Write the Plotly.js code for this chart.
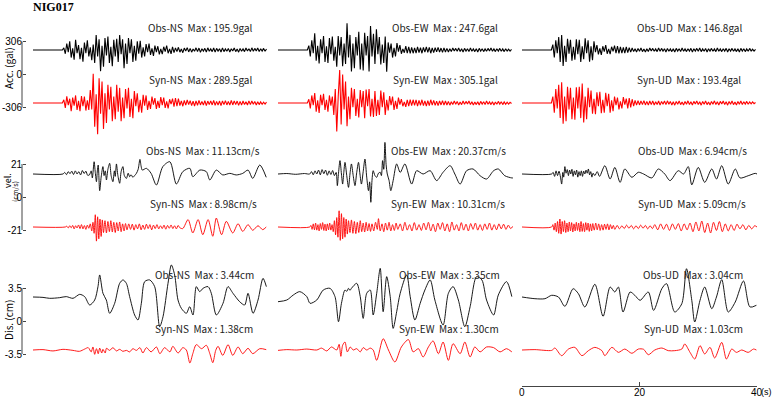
<!DOCTYPE html>
<html><head><meta charset="utf-8">
<script src="https://cdn.plot.ly/plotly-3.0.1.min.js"></script>
<style>html,body{margin:0;padding:0;background:#fff}#chart{width:775px;height:397px}</style>
</head><body><div id="chart"></div>
<script>
// ---------------- DATA ----------------
const stationName = 'NIG017';
const components = ['NS', 'EW', 'UD'];
const timeTicks = [0, 20, 40];
const timeUnit = '(s)';
const ACC_DT = 0.25; // s, sample interval of the acceleration records

const accTicks = [-306, 0, 306];
const velTicks = [-21, 0, 21];
const disTicks = [-3.5, 0, 3.5];

const accMaxObs = [195.9, 247.6, 146.8];
const accMaxSyn = [289.5, 305.1, 193.4];
const velMaxObs = [11.13, 20.37, 6.94];
const velMaxSyn = [8.98, 10.31, 5.09];
const disMaxObs = [3.44, 3.35, 3.04];
const disMaxSyn = [1.38, 1.30, 1.03];

// acceleration (gal), uniform samples
const accObsNS = [0,0,0,0,0,0,0,0, 0,0,0,0,0,0,0,0, 0,0,0,0,0,20,-35,60,
 -20,80,-70,15,-90,95,-30,45, -85,20,-108,70,-30,90,-60,25,
 -95,50,-120,139,-60,100,-196,40, -154,110,-50,125,-120,30,-150,95,
 -60,105,-110,139,-40,100,-170,60, -130,110,-30,100,-110,40,-100,80,
 -35,85,-70,25,-60,55,-20,60, -45,15,-55,40,-20,35,-40,10,
 -38,30,-15,40,-30,10,-35,30, -25,20,-15,25,-20,10,-25,18,
 -10,22,-18,15,-20,10,-12,20, -15,18,-22,12,-10,15,-18,20,
 -12,10,-15,18,-20,15,-10,12, -18,20,-15,10,-12,15,-18,12,
 -10,18,-15,10,-20,15,-12,10, -15,18,-10,12,-15,20,-12,15,
 -10,18,-15,12,-10,15,-12,10];
const accSynNS = [0,0,0,0,0,0,0,0, 0,0,0,0,0,0,0,0, 0,0,0,0,0,30,-45,62,
 -20,40,-77,50,-25,70,-65,20, -75,65,-30,60,-70,25,-65,120,
 -60,272,-220,80,-289,230,-100,200, -240,90,-185,170,-60,150,-170,60,
 -150,170,-80,140,-170,50,-140,130, -50,140,-130,40,-140,110,-30,90,
 -85,30,-90,75,-25,70,-65,20, -55,60,-15,45,-55,20,-45,55,
 -20,50,-45,15,-50,35,-10,40, -35,45,-30,40,-25,20,-30,25,
 -20,28,-15,22,-25,18,-28,20, -22,25,-18,15,-20,22,-25,18,
 -15,20,-18,25,-22,15,-20,18, -25,20,-15,22,-18,15,-20,25,
 -18,20,-15,18,-22,15,-20,18, -15,12,-18,20,-15,18,-12,15,
 -18,12,-15,10,-12,8,-10,8];
const accObsEW = [0,0,0,0,0,0,0,0, 0,0,0,0,0,0,0,0, 0,0,0,0,0,40,-60,90,
 -30,155,-100,40,-124,100,-30,130, -110,35,-120,110,-40,125,-100,30,
 -155,130,-50,120,-150,60,-130,247, -70,140,-200,60,-170,120,-50,170,
 -180,60,-190,160,-50,130,-200,222, -60,150,-130,192,-40,120,-135,50,
 -120,124,-202,70,-25,60,-70,20, -60,65,-15,45,-35,10,-25,35,
 -30,28,-32,25,-30,20,-28,30, -25,22,-30,25,-20,28,-22,25,
 -30,20,-25,22,-18,25,-20,18, -22,20,-18,15,-18,12,-15,18,
 -10,15,-12,18,-15,12,-18,15, -10,12,-15,18,-12,10,-15,12,
 -18,15,-10,12,-15,10,-12,15, -10,18,-12,10,-15,12,-10,15,
 -12,10,-15,12,-10,8,-10,5];
const accSynEW = [0,0,0,0,0,0,0,0, 0,0,0,0,0,0,0,0, 0,0,0,0,0,35,-50,70,
 -20,93,-80,25,-93,75,-20,85, -65,30,-80,70,-25,60,-110,130,
 -263,60,305,-200,263,-60,200,-216, 60,-150,140,-40,130,-120,40,-135,
 120,-40,110,-140,125,-30,130,-125, 40,-130,110,-120,30,-110,115,-40,
 100,-110,30,-70,65,-20,60,-65, 20,-55,50,-15,35,-30,10,-35,
 30,-28,32,-25,30,-22,28,-30, 25,-22,30,-25,20,-28,22,-25,
 30,-20,25,-22,18,-25,20,-18, 22,-20,18,-18,15,-20,12,-15,
 18,-12,15,-18,10,-15,18,-12, 15,-10,18,-15,12,-18,10,-15,
 12,-18,15,-10,12,-15,18,-12, 10,-15,12,-18,10,-12,15,-10,
 12,-15,10,-12,8,-10,6,-5];
const accObsUD = [0,0,0,0,0,0,0,0, 0,0,0,0,0,0,0,0, 0,0,0,0,0,50,-70,90,
 -30,120,-110,139,-147,40,-110,105, -35,95,-100,30,-90,100,-40,95,
 -110,35,-85,108,-30,90,-108,35, -95,80,-20,45,-40,15,-45,35,
 -15,45,-35,10,-38,30,-12,40, -30,35,-32,28,-30,25,-28,30,
 -25,22,-20,18,-15,12,-18,15, -12,18,-15,10,-18,12,-15,18,
 -10,15,-12,10,-15,18,-12,15, -10,12,-18,15,-12,10,-15,12,
 -18,15,-10,12,-15,18,-12,10, -15,12,-10,15,-18,12,-10,15,
 -12,18,-15,10,-12,15,-18,12, -10,15,-12,10,-15,18,-12,10,
 -15,12,-10,15,-18,12,-10,15, -12,10,-15,12,-18,15,-10,12,
 -15,10,-12,15,-10,8,-10,5];
const accSynUD = [0,0,0,0,0,0,0,0, 0,0,0,0,0,0,0,0, 0,0,0,0,0,60,-90,130,
 -50,170,-140,193,-193,60,-170,150, -60,140,-150,50,-155,145,-50,150,
 -140,180,-180,60,-150,140,-40,115, -100,40,-105,100,-30,105,-95,30,
 -90,95,-30,85,-90,25,-75,60, -20,50,-60,15,-50,55,-15,40,
 -50,45,-40,35,-30,25,-20,22, -18,20,-15,22,-18,15,-20,18,
 -15,20,-18,12,-15,18,-20,15, -12,18,-15,20,-12,15,-18,12,
 -20,15,-12,18,-15,10,-18,15, -12,20,-15,12,-18,15,-10,18,
 -15,12,-20,15,-12,18,-15,10, -18,15,-12,20,-15,12,-18,15,
 -10,18,-15,12,-20,15,-12,18, -15,10,-18,15,-12,18,-15,12,
 -10,15,-12,10,-8,10,-6,5];

// velocity (cm/s), [time s, value]
const velObsNS = [[0,0],[5.1,0],[5.4,1.0],[5.7,-0.4],[6.0,1.5],[6.3,0.2],[6.6,1.8],[6.9,-0.3],[7.2,2.0],[7.5,0],
 [7.8,1.5],[8.1,-0.6],[8.4,2.2],[8.7,0.3],[9.0,1.8],[9.3,-0.8],[9.6,-0.6],[9.9,2.0],[10.1,-2.5],[10.4,7.8],
 [10.6,1.0],[10.8,-4.9],[10.95,2.0],[11.1,5.7],[11.35,-10.6],[11.6,-2.0],[11.9,4.7],[12.1,-1.0],[12.3,2.0],[12.5,-3.8],
 [12.75,3.0],[13.05,6.8],[13.3,-1.0],[13.6,-4.9],[13.85,2.0],[14.0,-1.5],[14.2,6.4],[14.45,-1.0],[14.75,-5.9],[15.0,1.5],
 [15.3,4.7],[15.55,-1.0],[15.9,-2.8],[16.2,0.5],[16.45,-1.7],[16.7,-0.5],[17.0,-2.1],[17.3,-1.0],[17.6,0.4],[17.9,3.0],
 [18.2,9.3],[18.4,5.0],[18.6,2.5],[19.3,3.6],[20.1,0.4],[21.0,-7.0],[22.1,4.7],[23.3,7.8],[24.4,-6.4],[25.5,1.5],
 [26.7,3.6],[27.2,-1.7],[28.4,2.5],[29.5,1.5],[30.1,-3.8],[31.2,2.5],[32.3,-0.6],[33.5,0.4],[34.6,-0.6],[35.7,0.4],
 [36.6,2.5],[37.4,-2.8],[38.6,5.7],[39.7,-2.1]];
const velSynNS = [[0,0],[5.5,0],[5.75,0.5],[6.0,-0.6],[6.25,0.8],[6.5,-0.5],[6.75,1.0],[7.0,-1.2],[7.25,0.8],[7.5,-0.6],
 [7.75,1.3],[8.0,-1.0],[8.25,1.5],[8.5,-1.2],[8.75,0.9],[9.0,-1.5],[9.25,1.2],[9.5,-0.8],[9.75,2.0],[10.0,-2.5],
 [10.2,3.0],[10.4,-4.0],[10.6,7.8],[10.8,-8.98],[11.0,6.5],[11.2,-7.5],[11.4,5.0],[11.6,-6.0],[11.8,4.5],[12.0,-3.5],
 [12.25,4.0],[12.5,-3.8],[12.75,3.5],[13.0,-3.0],[13.25,4.0],[13.5,-3.2],[13.75,3.0],[14.0,-3.5],[14.25,2.8],[14.5,-2.5],
 [14.75,3.2],[15.0,-3.0],[15.25,2.0],[15.5,-2.5],[15.75,2.2],[16.0,-1.8],[16.3,2.0],[16.6,-1.5],[16.9,1.8],[17.2,-2.0],
 [17.5,1.5],[17.8,-1.2],[18.1,2.0],[18.4,-1.8],[18.7,1.2],[19.0,-1.5],[19.3,1.8],[19.6,-1.0],[19.9,1.5],[20.2,-1.8],
 [20.5,1.2],[20.8,-1.0],[21.1,1.5],[21.4,-1.2],[21.7,0.8],[22.0,-1.0],[22.3,1.2],[22.6,-1.4],[22.9,1.0],[23.2,-0.8],
 [23.5,1.3],[23.8,-1.0],[24.1,0.8],[24.4,-1.2],[24.7,1.0],[25.0,-0.5],[25.5,-1.0],[26.4,4.7],[27.2,-3.8],[28.1,4.7],
 [28.9,-4.9],[29.8,4.7],[30.6,-5.9],[31.2,5.7],[32.1,-4.9],[32.9,3.6],[34.0,-3.8],[34.9,2.1],[35.7,-2.8],[36.6,1.5],
 [37.4,-2.1],[38.3,0.8],[39.1,-1.7],[39.7,0]];
const velObsEW = [[0,0],[1.5,0.3],[3.0,-0.2],[4.5,0.3],[5.4,0],[5.7,1.5],[6.0,-0.5],[6.3,2.0],[6.6,0],[6.9,2.5],
 [7.2,-0.5],[7.5,2.8],[7.8,0.2],[8.1,2.5],[8.4,-0.8],[8.7,2.0],[9.0,-0.3],[9.3,2.2],[9.6,-1.0],[9.9,1.0],
 [10.1,-7.4],[10.3,0.5],[10.55,8.5],[10.8,0],[11.0,-6.4],[11.2,1.0],[11.4,7.4],[11.7,-1.0],[12.0,-8.5],[12.25,0],
 [12.5,6.4],[12.8,-1.0],[13.1,-7.4],[13.4,1.0],[13.7,7.4],[13.95,0],[14.2,-6.4],[14.5,1.5],[14.8,9.5],[15.1,-2.0],
 [15.4,-10.6],[15.6,-5.0],[15.8,-18],[16.0,-4.0],[16.2,2.1],[16.5,-1.0],[16.8,-2.1],[17.1,0.5],[17.4,1.1],[17.6,-1.0],
 [17.8,8.5],[18.0,3.0],[18.2,20.1],[18.4,6.0],[18.6,0],[18.9,-4.0],[19.2,-10.6],[19.6,-4.2],[20.2,6.4],[20.8,1.0],
 [21.6,6.4],[22.75,-6.4],[23.6,2.1],[24.7,0],[25.9,2.1],[27.0,-4.2],[28.1,1.1],[29.3,5.3],[30.1,0],[31.0,-6.4],
 [32.1,2.1],[33.2,3.2],[34.4,-1.1],[35.5,-3.2],[36.7,2.1],[37.5,3.2],[38.6,-1.1],[39.8,-2.5],[40,-2.5]];
const velSynEW = [[0,0],[5.4,0],[5.6,1.0],[5.8,-1.5],[6.0,2.0],[6.2,-1.8],[6.4,2.5],[6.6,-2.0],[6.8,1.5],[7.0,-2.5],
 [7.2,2.2],[7.4,-1.5],[7.6,2.8],[7.8,-2.2],[8.0,1.8],[8.2,-2.5],[8.4,2.0],[8.6,-1.8],[8.8,2.5],[9.0,-2.0],
 [9.2,1.5],[9.4,-3.0],[9.6,4.0],[9.8,-5.0],[10.0,6.0],[10.2,-6.5],[10.4,10.3],[10.6,-8.5],[10.8,8.5],[11.0,-7.5],
 [11.2,6.0],[11.4,-6.5],[11.6,5.0],[11.8,-4.5],[12.0,4.0],[12.25,-3.5],[12.5,4.5],[12.75,-4.0],[13.0,3.5],[13.25,-4.2],
 [13.5,3.0],[13.75,-3.5],[14.0,4.0],[14.25,-3.0],[14.5,2.5],[14.75,-3.2],[15.0,3.0],[15.25,-2.5],[15.5,2.2],[15.75,-2.8],
 [16.0,2.0],[16.3,-2.5],[16.6,3.0],[16.9,-1.5],[17.1,5.3],[17.4,-2.5],[17.7,2.0],[18.0,-3.0],[18.3,2.5],[18.6,-2.0],
 [18.9,3.0],[19.2,-2.5],[19.5,1.5],[19.8,-2.2],[20.1,2.5],[20.4,-1.5],[20.8,2.0],[21.2,-2.5],[21.6,3.0],[22.0,-2.0],
 [22.4,1.5],[22.8,-2.5],[23.2,2.8],[23.6,-2.0],[24.0,1.5],[24.4,-2.2],[24.8,2.5],[25.2,-1.8],[25.6,3.0],[26.0,-2.5],
 [26.4,1.8],[26.8,-3.0],[27.2,2.5],[27.6,-1.5],[28.0,2.8],[28.4,-2.5],[28.8,2.0],[29.2,-3.0],[29.6,3.2],[30.0,-2.0],
 [30.4,1.5],[30.8,-2.5],[31.2,2.8],[31.6,-2.0],[32.0,1.8],[32.4,-2.5],[32.8,2.2],[33.2,-1.5],[33.6,2.5],[34.0,-2.0],
 [34.4,1.5],[34.8,-2.2],[35.2,2.0],[35.6,-1.5],[36.0,2.5],[36.4,-2.0],[36.8,1.5],[37.2,-1.8],[37.6,2.0],[38.0,-1.2],
 [38.4,1.8],[38.8,-1.5],[39.2,1.2],[39.6,-1.0],[40,0.5]];
const velObsUD = [[0,0],[5.05,0],[5.3,1.0],[5.55,-1.5],[5.8,2.0],[6.05,-1.0],[6.3,1.8],[6.55,-2.0],[6.75,-6.4],[6.95,1.0],
 [7.1,-2.0],[7.3,4.7],[7.5,0.5],[7.7,2.8],[7.9,-1.0],[8.1,2.5],[8.3,0],[8.5,3.0],[8.7,-1.5],[8.9,2.0],
 [9.1,-0.5],[9.3,2.5],[9.5,-2.0],[9.7,1.5],[9.9,-1.0],[10.1,2.0],[10.3,-1.5],[10.5,1.8],[10.7,0],[10.9,2.5],
 [11.1,0.5],[11.3,3.2],[11.5,-0.5],[11.7,1.5],[11.9,-2.0],[12.1,0.5],[12.4,-1.0],[12.8,1.5],[13.2,-1.5],[14.1,5.3],
 [15.0,-3.2],[15.8,4.2],[16.7,-5.3],[17.5,3.2],[18.7,-2.1],[19.8,1.1],[20.7,0],[22.1,-2.5],[23.2,3.2],[24.3,0],
 [25.2,-4.2],[26.6,2.1],[27.5,0],[28.3,4.7],[28.9,-6.9],[30.0,4.2],[31.1,-5.3],[32.3,3.2],[33.1,-3.2],[34.0,5.3],
 [35.1,-6.4],[36.3,3.2],[37.1,-2.5],[38.5,-1.1],[39.7,0.4],[40,0]];
const velSynUD = [[0,0],[5.05,0],[5.25,1.5],[5.45,-2.0],[5.65,2.5],[5.85,-3.0],[6.05,3.5],[6.25,-4.0],[6.45,5.09],[6.65,-4.5],
 [6.85,3.5],[7.05,-3.0],[7.25,4.0],[7.45,-3.5],[7.65,2.5],[7.85,-3.0],[8.05,3.2],[8.25,-2.5],[8.45,2.8],[8.65,-3.2],
 [8.85,2.0],[9.05,-2.5],[9.25,3.0],[9.45,-2.2],[9.65,2.5],[9.85,-3.0],[10.05,3.5],[10.25,-2.8],[10.45,2.2],[10.65,-3.0],
 [10.85,2.8],[11.05,-2.0],[11.25,2.5],[11.45,-2.8],[11.65,2.0],[11.85,-2.5],[12.05,2.2],[12.3,-2.0],[12.55,2.5],[12.8,-1.8],
 [13.05,2.0],[13.3,-2.2],[13.55,1.5],[13.8,-2.0],[14.05,1.8],[14.3,-1.5],[14.55,2.0],[14.8,-1.8],[15.05,1.5],[15.3,-1.2],
 [15.55,1.0],[15.8,-1.5],[16.2,1.0],[16.6,-1.2],[17.0,0.8],[17.4,-1.0],[17.8,1.2],[18.2,-0.8],[18.6,1.0],[19.0,-1.2],
 [19.4,0.8],[19.8,-1.0],[20.2,1.2],[20.6,-0.8],[21.0,1.0],[21.4,-1.2],[21.8,0.8],[22.2,-1.0],[22.6,1.5],[23.1,-1.8],
 [23.6,2.0],[24.1,-1.5],[24.6,1.8],[25.1,-2.2],[25.6,2.0],[26.1,-1.5],[26.6,2.2],[27.1,-2.5],[27.6,2.0],[28.1,-1.8],
 [28.6,2.5],[29.1,-3.0],[29.6,3.2],[30.1,-2.5],[30.6,3.8],[31.1,-3.5],[31.6,2.5],[32.1,-3.8],[32.6,3.0],[33.1,-2.2],
 [33.6,3.5],[34.1,-3.0],[34.6,2.0],[35.1,-2.5],[35.6,1.5],[36.1,-2.2],[36.6,1.8],[37.1,-1.2],[37.6,1.5],[38.1,-1.8],
 [38.6,1.0],[39.1,-1.2],[39.6,0.8],[40,0]];

// displacement (cm), [time s, value]
const disObsNS = [[0,0],[1.7,-0.04],[2.84,-0.14],[4.54,-0.07],[5.67,0.04],[6.81,-0.14],[7.94,0.28],[8.79,0.04],[9.65,-0.85],[10.5,-0.32],
 [11.06,1.1],[11.35,2.34],[11.91,0.39],[12.48,-0.32],[13.05,-1.73],[13.9,-0.67],[14.75,1.45],[15.32,1.81],[15.89,1.45],[16.45,0.04],
 [17.3,-1.91],[17.87,-2.44],[18.44,-0.67],[19.01,1.63],[19.86,1.81],[20.71,1.1],[21.56,-3.15],[22.13,-2.09],[22.98,1.45],[23.55,3.4],
 [24.11,2.34],[24.68,-0.32],[25.25,-1.2],[26.1,-1.73],[26.67,-1.03],[27.23,-1.91],[27.8,1.1],[28.37,0.57],[28.94,0.92],[29.79,1.1],
 [30.35,0.39],[31.21,-1.91],[32.34,-0.67],[33.19,1.1],[34.04,0.39],[35.18,-0.5],[36.03,-0.85],[36.6,0.39],[37.45,-1.73],[38.3,-0.32],
 [39.15,1.98],[39.72,1.1]];
const disSynNS = [[0,0],[1.7,0.04],[3.4,-0.1],[5.1,0.07],[6.8,-0.04],[7.9,-0.14],[8.8,0.1],[9.4,0.25],[9.9,-0.2],[10.2,0.32],
 [10.5,-0.46],[10.8,0.14],[11.1,-0.39],[11.35,0.2],[11.7,-0.32],[11.9,0.07],[12.3,-0.32],[12.5,0.18],[13.05,-0.04],[13.6,0.25],
 [14.2,-0.1],[14.75,0.07],[15.3,-0.14],[15.9,-0.04],[16.45,-0.2],[17.0,0.14],[17.6,-0.04],[18.2,0.25],[18.7,-0.32],[19.3,0.25],
 [20.1,-0.2],[21.0,0.32],[21.6,-0.39],[22.4,0.25],[23.3,-0.2],[23.8,0.39],[24.7,-0.32],[25.5,0.25],[26.1,0],[26.7,-1.38],
 [27.2,-0.39],[27.8,0.57],[28.7,0.14],[29.5,0.5],[30.1,-0.39],[30.6,-1.35],[31.1,-0.04],[31.5,0.39],[32.3,-0.57],[33.2,0.57],
 [34.0,-0.57],[34.9,0.32],[35.7,-0.39],[36.6,0.18],[37.4,-0.39],[38.6,0.14],[39.7,0.04]];
const disObsEW = [[0,-0.5],[1.5,-0.32],[2.6,0.21],[3.7,0.57],[4.9,0.04],[5.45,-0.67],[6.6,-0.32],[7.7,0.74],[8.85,0.92],[9.7,0.04],
 [10.3,-2.62],[10.8,-0.67],[11.4,0.74],[11.7,0.6],[12.0,0.92],[12.25,0.7],[12.5,0.92],[13.4,1.45],[14.0,0.04],[14.5,-2.27],
 [15.1,0.39],[15.7,0.74],[16.2,-1.91],[16.8,0.39],[17.4,3.04],[17.9,-1.56],[18.5,2.16],[19.1,0.04],[19.6,-3.33],[20.2,-1.56],
 [20.8,0.39],[21.9,2.34],[22.5,0.04],[23.3,-2.44],[24.2,-0.67],[25.0,0.74],[25.9,1.81],[26.7,-0.32],[28.1,-2.97],[29.0,0.39],
 [29.8,1.1],[30.7,-0.32],[31.8,-3.15],[32.7,-1.03],[33.8,2.16],[34.7,1.81],[35.5,-0.32],[36.7,-1.91],[37.5,0.21],[38.9,1.63],
 [39.8,0.04]];
const disSynEW = [[0,-0.04],[1.5,0.04],[3.2,0],[4.9,0.1],[6.6,0],[7.4,0.2],[8.3,-0.1],[9.1,0.32],[10.0,0],[10.4,0.6],
 [10.7,-0.67],[11.0,0.5],[11.4,0.85],[11.8,-0.2],[12.3,0.32],[12.8,0],[13.4,0.14],[14.0,-0.2],[14.5,0.25],[15.1,0],
 [15.7,0.2],[16.2,0],[16.8,-1.1],[17.9,1.2],[18.8,0],[19.9,-1.27],[21.0,0.32],[22.2,1.1],[23.0,-0.2],[23.9,0.14],
 [24.7,-0.74],[25.6,0.32],[26.4,0.96],[27.3,-0.39],[28.1,0.85],[29.0,-1.1],[29.8,0.67],[31.0,-0.39],[31.8,0.85],[32.7,-0.74],
 [33.5,0.32],[34.4,-0.2],[35.5,0.32],[36.7,0.25],[37.8,-0.2],[38.9,0.14],[39.8,-0.2]];
const disObsUD = [[0,0],[2.2,-0.18],[3.9,-0.18],[5.05,0.18],[6.2,0],[7.3,-0.99],[8.7,0.88],[9.6,0.35],[10.7,-1.06],[12.4,1.35],
 [13.8,-2.05],[15.0,1.06],[15.8,0.53],[16.4,1.06],[17.2,-1.59],[18.4,0.53],[19.2,0.18],[20.1,-0.35],[21.5,0.53],[22.4,-1.42],
 [23.8,0.88],[24.6,1.42],[26.0,-1.59],[27.2,-0.71],[28.0,3.0],[28.9,-0.35],[29.4,-2.65],[30.3,-0.35],[31.1,1.06],[32.3,-1.24],
 [33.1,0],[34.0,1.84],[35.1,-1.59],[36.3,-0.53],[37.7,1.7],[38.8,-1.06],[39.9,-0.88]];
const disSynUD = [[0,0],[2.2,0.04],[5.05,-0.04],[5.6,0.21],[6.75,-0.6],[7.9,0.1],[9.0,0.28],[10.2,-0.6],[11.3,-0.07],[12.4,0.28],
 [13.6,-0.07],[14.1,-0.6],[15.3,0.28],[16.4,-0.25],[17.5,0.1],[18.7,-0.35],[19.8,0.1],[20.7,0.07],[21.5,-0.5],[22.6,0],
 [23.8,0.21],[24.9,-0.07],[26.0,-0.07],[27.2,0.1],[27.7,0.64],[28.6,-0.25],[29.4,-0.96],[30.3,0.46],[31.1,-0.42],[32.0,0.28],
 [32.8,-0.85],[34.0,0.81],[34.8,-0.96],[35.7,0.1],[36.5,-0.25],[37.4,0],[38.5,-0.25],[39.4,0.1],[39.9,0]];

// ---------------- LAYOUT HELPERS ----------------
const W = 775, H = 397;
const fx = p => p / W;
const fy = p => 1 - p / H;
const colPx = [[33, 268], [278, 513], [522, 757]];
const LABEL_FONT = 'Noto Sans CJK JP, Arial, sans-serif';
const TICK_FONT = 'Liberation Sans, Arial, sans-serif';
const TEXT_COLOR = '#222';

const rowsCfg = [
  { p0: 74.5, s: 33 / 306, dom: [14, 142], obsY: 50, synY: 103, ticks: accTicks,
    obs: [accObsNS, accObsEW, accObsUD], syn: [accSynNS, accSynEW, accSynUD], uniform: true,
    maxObs: accMaxObs, maxSyn: accMaxSyn, dec: 1, unit: 'gal', lblObsY: 27, lblSynY: 80, lblDx: 167, lw: 1.1 },
  { p0: 197, s: 33 / 21, dom: [138, 258], obsY: 174, synY: 227, ticks: velTicks,
    obs: [velObsNS, velObsEW, velObsUD], syn: [velSynNS, velSynEW, velSynUD], uniform: false,
    maxObs: velMaxObs, maxSyn: velMaxSyn, dec: 2, unit: 'cm/s', lblObsY: 151, lblSynY: 203, lblDx: 170, lw: 0.9 },
  { p0: 321, s: 33 / 3.5, dom: [256, 372], obsY: 297, synY: 350, ticks: disTicks,
    obs: [disObsNS, disObsEW, disObsUD], syn: [disSynNS, disSynEW, disSynUD], uniform: false,
    maxObs: disMaxObs, maxSyn: disMaxSyn, dec: 2, unit: 'cm', lblObsY: 274, lblSynY: 328, lblDx: 171, lw: 0.9 }
];

const traces = [];
const layout = {
  width: W, height: H, margin: { l: 0, r: 0, t: 0, b: 0 },
  paper_bgcolor: '#fff', plot_bgcolor: 'rgba(0,0,0,0)', showlegend: false,
  title: { text: '<b>' + stationName + '</b>', x: fx(33), xanchor: 'left', xref: 'paper',
           y: fy(6.5), yanchor: 'middle', yref: 'paper',
           font: { family: 'Liberation Serif, Times New Roman, serif', size: 12, color: '#000' } },
  annotations: [], shapes: []
};

rowsCfg.forEach((rc, r) => {
  const yr = [(rc.p0 - rc.dom[1]) / rc.s, (rc.p0 - rc.dom[0]) / rc.s];
  const offObs = (rc.p0 - rc.obsY) / rc.s;
  const offSyn = (rc.p0 - rc.synY) / rc.s;
  components.forEach((comp, c) => {
    const idx = r * 3 + c + 1;
    const sfx = idx === 1 ? '' : String(idx);
    const xa = 'x' + sfx, ya = 'y' + sfx;
    layout['xaxis' + sfx] = { domain: [fx(colPx[c][0]), fx(colPx[c][1])], range: [0, 40], anchor: ya,
      visible: false, showgrid: false, zeroline: false, fixedrange: true };
    layout['yaxis' + sfx] = { domain: [fy(rc.dom[1]), fy(rc.dom[0])], range: yr, anchor: xa,
      visible: false, showgrid: false, zeroline: false, fixedrange: true };
    if (c === 0) {
      Object.assign(layout['yaxis' + sfx], {
        visible: true, anchor: 'free', position: fx(22), side: 'left', showline: false,
        ticks: 'inside', ticklen: 3, tickwidth: 1, tickcolor: '#444',
        tickvals: rc.ticks, ticktext: rc.ticks.map(String),
        tickfont: { family: TICK_FONT, size: 10, color: '#000' }
      });
      layout.shapes.push({ type: 'line', xref: 'paper', yref: ya, x0: fx(22), x1: fx(22),
        y0: rc.ticks[0], y1: rc.ticks[2], line: { color: '#444', width: 1 } });
    }
    const mk = (data, off, color) => {
      let xs, ys;
      if (rc.uniform) { xs = data.map((_, i) => i * ACC_DT); ys = data.map(v => v + off); }
      else { xs = data.map(p => p[0]); ys = data.map(p => p[1] + off); }
      return { type: 'scatter', mode: 'lines', x: xs, y: ys, xaxis: xa, yaxis: ya,
        line: { color: color, width: rc.lw, shape: rc.uniform ? 'linear' : 'spline', smoothing: 0.8 },
        hoverinfo: 'skip' };
    };
    traces.push(mk(rc.obs[c], offObs, '#000000'));
    traces.push(mk(rc.syn[c], offSyn, '#ff0000'));
    const cx = colPx[c][0] + rc.lblDx;
    const fmt = v => v.toFixed(rc.dec) + rc.unit;
    layout.annotations.push({ xref: 'paper', yref: 'paper', x: fx(cx), y: fy(rc.lblObsY), xanchor: 'center', yanchor: 'middle',
      showarrow: false, text: 'Obs-' + comp + '\u00a0\u00a0Max : ' + fmt(rc.maxObs[c]),
      font: { family: LABEL_FONT, size: 10, color: TEXT_COLOR } });
    layout.annotations.push({ xref: 'paper', yref: 'paper', x: fx(cx), y: fy(rc.lblSynY), xanchor: 'center', yanchor: 'middle',
      showarrow: false, text: 'Syn-' + comp + '\u00a0\u00a0Max : ' + fmt(rc.maxSyn[c]),
      font: { family: LABEL_FONT, size: 10, color: TEXT_COLOR } });
  });
});

// time axis (bottom right): line + ticks from the axis, labels placed at tick values
Object.assign(layout.xaxis9, {
  visible: true, anchor: 'free', position: fy(386), side: 'bottom', showline: true, linecolor: '#444', linewidth: 1,
  ticks: 'inside', ticklen: 4, tickcolor: '#444', tickvals: timeTicks, showticklabels: false
});
timeTicks.forEach(t => {
  layout.annotations.push({ xref: 'x9', yref: 'paper', x: t, y: fy(392), xanchor: 'center', yanchor: 'middle',
    showarrow: false, text: String(t), font: { family: TICK_FONT, size: 10, color: '#000' } });
});
layout.annotations.push({ xref: 'paper', yref: 'paper', x: fx(774), y: fy(392), xanchor: 'right', yanchor: 'middle',
  showarrow: false, text: timeUnit, font: { family: TICK_FONT, size: 9, color: '#000' } });

// y-axis titles
const axTitleFont = { family: LABEL_FONT, size: 10, color: '#000' };
layout.annotations.push({ xref: 'paper', yref: 'paper', x: fx(8), y: fy(68), textangle: -90, showarrow: false,
  xanchor: 'center', yanchor: 'middle', text: 'Acc. (gal)', font: axTitleFont });
layout.annotations.push({ xref: 'paper', yref: 'paper', x: fx(7), y: fy(181), textangle: -90, showarrow: false,
  xanchor: 'center', yanchor: 'middle', text: 'vel.', font: { family: LABEL_FONT, size: 9, color: '#000' } });
layout.annotations.push({ xref: 'paper', yref: 'paper', x: fx(15), y: fy(192), textangle: -90, showarrow: false,
  xanchor: 'center', yanchor: 'middle', text: '(cm/s)', font: { family: LABEL_FONT, size: 7, color: '#000' } });
layout.annotations.push({ xref: 'paper', yref: 'paper', x: fx(8), y: fy(320), textangle: -90, showarrow: false,
  xanchor: 'center', yanchor: 'middle', text: 'Dis. (cm)', font: axTitleFont });

Plotly.newPlot('chart', traces, layout, { staticPlot: true, displayModeBar: false });
</script>
</body></html>
